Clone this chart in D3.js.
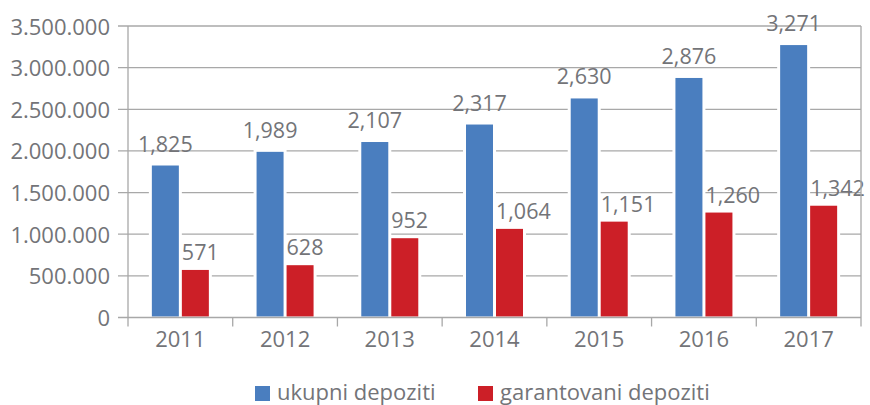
<!DOCTYPE html>
<html>
<head>
<meta charset="utf-8">
<script src="https://cdn.jsdelivr.net/npm/d3@7"></script>
<style>
  body { margin: 0; background: #fff; }
  svg text { font-family: "Open Sans", "Noto Sans", sans-serif; fill: #737478; }
</style>
</head>
<body>
<div id="chart"></div>
<script>
// chart data
var years = ["2011", "2012", "2013", "2014", "2015", "2016", "2017"];
var ukupni = [1825, 1989, 2107, 2317, 2630, 2876, 3271];
var garantovani = [571, 628, 952, 1064, 1151, 1260, 1342];
var seriesNames = ["ukupni depoziti", "garantovani depoziti"];
var seriesColors = ["#4a7ebf", "#cc1f27"];
var yTicks = [0, 500000, 1000000, 1500000, 2000000, 2500000, 3000000, 3500000];

var width = 870, height = 405;
var plotL = 128, plotR = 861, plotT = 26, plotB = 317.5;
var gridColor = "#a8a8a8";

var svg = d3.select("#chart").append("svg")
    .attr("width", width)
    .attr("height", height);

var x = d3.scaleBand()
    .domain(years)
    .range([plotL, plotR]);

var xSub = d3.scaleBand()
    .domain([0, 1])
    .range([-28.5, 28.5])
    .paddingInner(0.1);

var y = d3.scaleLinear()
    .domain([0, 3500000])
    .range([plotB, plotT]);

var loc = d3.formatLocale({decimal: ",", thousands: ".", grouping: [3], currency: ["", ""]});
var fmtAxis = loc.format(",");
var fmtLabel = d3.format(",");

// gridlines + y tick labels
svg.append("g")
  .selectAll("line")
  .data(yTicks.slice(1))
  .join("line")
    .attr("x1", plotL - 10)
    .attr("x2", plotR)
    .attr("y1", d => y(d))
    .attr("y2", d => y(d))
    .attr("stroke", gridColor)
    .attr("stroke-width", 1.3);

svg.append("g")
  .selectAll("text")
  .data(yTicks)
  .join("text")
    .attr("x", plotL - 18)
    .attr("y", d => y(d) + 8.5)
    .attr("text-anchor", "end")
    .attr("font-size", "22px")
    .text(d => fmtAxis(d));

// build rows from the arrays
var rows = years.map(function(yr, i) {
  return {year: yr, vals: [ukupni[i] * 1000, garantovani[i] * 1000], raw: [ukupni[i], garantovani[i]]};
});

var bars = [];
rows.forEach(function(r) {
  [0, 1].forEach(function(s) {
    bars.push({year: r.year, s: s, v: r.vals[s], raw: r.raw[s]});
  });
});

var cx = d => x(d.year) + x.bandwidth() / 2 + xSub(d.s);

// white halo behind bars (hides gridlines near the bars)
svg.append("g")
  .selectAll("rect")
  .data(bars)
  .join("rect")
    .attr("x", d => cx(d) - 3)
    .attr("y", d => y(d.v) - 3)
    .attr("width", xSub.bandwidth() + 6)
    .attr("height", d => plotB - y(d.v) + 2)
    .attr("fill", "#fff");

svg.append("g")
  .selectAll("rect")
  .data(bars)
  .join("rect")
    .attr("x", d => cx(d))
    .attr("y", d => y(d.v))
    .attr("width", xSub.bandwidth())
    .attr("height", d => plotB - 1 - y(d.v))
    .attr("fill", d => seriesColors[d.s]);

// value labels
svg.append("g")
  .selectAll("text")
  .data(bars)
  .join("text")
    .attr("x", d => d.s === 0 ? cx(d) + xSub.bandwidth() / 2 : cx(d))
    .attr("y", d => y(d.v) - (d.s === 0 ? 14 : 10))
    .attr("text-anchor", d => d.s === 0 ? "middle" : "start")
    .attr("font-size", "21.5px")
    .text(d => fmtLabel(d.raw));

// axes frame
var axisG = svg.append("g").attr("stroke", gridColor).attr("stroke-width", 1.3);
axisG.append("line").attr("x1", plotL - 10).attr("x2", plotR).attr("y1", plotB).attr("y2", plotB);
axisG.append("line").attr("x1", plotL).attr("x2", plotL).attr("y1", plotT).attr("y2", plotB + 9);
axisG.append("line").attr("x1", plotR).attr("x2", plotR).attr("y1", plotT).attr("y2", plotB + 9);
axisG.selectAll(".tk")
  .data(years.slice(1))
  .join("line")
    .attr("x1", d => x(d))
    .attr("x2", d => x(d))
    .attr("y1", plotB)
    .attr("y2", plotB + 9);

// category labels
svg.append("g")
  .selectAll("text")
  .data(years)
  .join("text")
    .attr("x", d => x(d) + x.bandwidth() / 2)
    .attr("y", 347)
    .attr("text-anchor", "middle")
    .attr("font-size", "22px")
    .text(d => d);

// legend
var legX = [255, 478];
var leg = svg.append("g")
  .selectAll("g")
  .data(seriesNames)
  .join("g")
    .attr("transform", (d, i) => `translate(${legX[i]},386)`);

leg.append("rect")
    .attr("width", 15)
    .attr("height", 15)
    .attr("fill", (d, i) => seriesColors[i]);

leg.append("text")
    .attr("x", 22)
    .attr("y", 13.5)
    .attr("font-size", "22px")
    .text(d => d);
</script>
</body>
</html>
